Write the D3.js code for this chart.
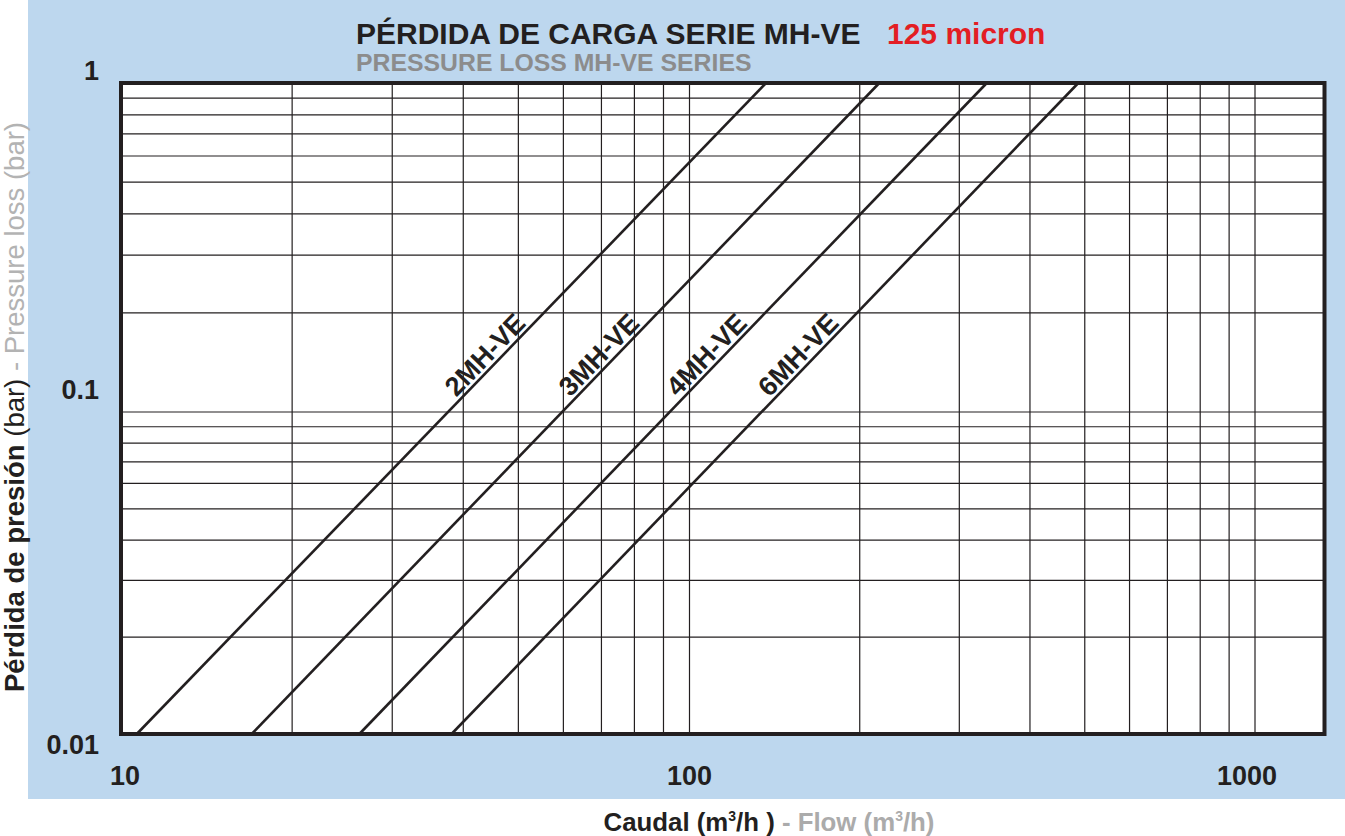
<!DOCTYPE html>
<html>
<head>
<meta charset="utf-8">
<script src="https://cdn.jsdelivr.net/npm/d3@7"></script>
<style>
  html, body { margin: 0; padding: 0; background: #ffffff; }
  svg { display: block; }
  text { font-family: "Liberation Sans", Arial, Helvetica, sans-serif; }
</style>
</head>
<body>
<svg id="chart" width="1345" height="836"></svg>
<script>
// ---------- data ----------
const flowTicks = [10, 100, 1000];                 // labelled x ticks (m3/h)
const lossTicks = [0.01, 0.1, 1];                  // labelled y ticks (bar)
const flowDecades = [10, 100];                     // decades for x minor grid
const lossDecades = [0.01, 0.1];                   // decades for y minor grid
const gridMultipliers = [1, 2, 3, 4, 5, 6, 7, 8, 9];
const seriesNames = ["2MH-VE", "3MH-VE", "4MH-VE", "6MH-VE"];
const lossEnds = [0.01, 1];                        // bar, end points of each curve
const flowAtLowLoss = [10.66, 16.98, 26.26, 38.14];  // m3/h at 0.01 bar
const flowAtHighLoss = [136.6, 216.6, 335.5, 487.0]; // m3/h at 1 bar
const labelLoss = 0.14;                            // where the series label sits
const flowMax = 1327;

// ---------- layout ----------
const W = 1345, H = 836;
const plot = { left: 121, right: 1324.5, top: 83, bottom: 734 };
const ink = "#231f20";
const blue = "#bdd7ee";

const svg = d3.select("#chart");

const x = d3.scaleLog()
  .domain([10, 100, 1000, flowMax])
  .range([plot.left, 689.5, 1255, plot.right]);
const y = d3.scaleLog()
  .domain([0.01, 0.1, 1])
  .range([plot.bottom, 412, plot.top]);

// background
svg.append("rect").attr("x", 28).attr("y", 0).attr("width", W - 28).attr("height", 799)
  .attr("fill", blue);
svg.append("rect").attr("x", plot.left).attr("y", plot.top)
  .attr("width", plot.right - plot.left).attr("height", plot.bottom - plot.top)
  .attr("fill", "#ffffff");

// grid
const xGrid = [];
flowDecades.forEach(d => gridMultipliers.forEach(m => xGrid.push(d * m)));
xGrid.push(1000);
const yGrid = [];
lossDecades.forEach(d => gridMultipliers.forEach(m => yGrid.push(d * m)));

const grid = svg.append("g").attr("stroke", ink).attr("stroke-width", 1.2);
grid.selectAll("line.vx").data(xGrid.filter(v => v > 10)).join("line")
  .attr("x1", d => x(d)).attr("x2", d => x(d))
  .attr("y1", plot.top).attr("y2", plot.bottom);
grid.selectAll("line.hy").data(yGrid.filter(v => v > 0.01)).join("line")
  .attr("x1", plot.left).attr("x2", plot.right)
  .attr("y1", d => y(d)).attr("y2", d => y(d));

// series
const series = seriesNames.map((name, i) => ({
  name,
  pts: [
    { q: flowAtLowLoss[i], p: lossEnds[0] },
    { q: flowAtHighLoss[i], p: lossEnds[1] }
  ]
}));
const line = d3.line().x(d => x(d.q)).y(d => y(d.p));
svg.append("g").selectAll("path").data(series).join("path")
  .attr("d", d => line(d.pts))
  .attr("fill", "none").attr("stroke", ink).attr("stroke-width", 2.6);

// series labels
const yl = y(labelLoss);
svg.append("g").selectAll("text").data(series).join("text")
  .attr("transform", d => {
    const x0 = x(d.pts[0].q), y0 = y(d.pts[0].p);
    const x1 = x(d.pts[1].q), y1 = y(d.pts[1].p);
    const t = (yl - y0) / (y1 - y0);
    const px = x0 + t * (x1 - x0);
    const ang = Math.atan2(y1 - y0, x1 - x0) * 180 / Math.PI;
    return `translate(${px},${yl}) rotate(${ang})`;
  })
  .attr("dy", -4)
  .attr("text-anchor", "middle")
  .attr("font-size", 27).attr("font-weight", "bold").attr("fill", ink)
  .text(d => d.name);

// frame
svg.append("rect").attr("x", plot.left).attr("y", plot.top)
  .attr("width", plot.right - plot.left).attr("height", plot.bottom - plot.top)
  .attr("fill", "none").attr("stroke", ink).attr("stroke-width", 4);

// x tick labels
svg.append("g").selectAll("text").data(flowTicks).join("text")
  .attr("x", (d, i) => x(d) + (i === 0 ? 4 : (i === flowTicks.length - 1 ? -8 : 0)))
  .attr("y", 785)
  .attr("text-anchor", "middle")
  .attr("font-size", 27).attr("font-weight", "bold").attr("fill", ink)
  .text(d => d3.format("d")(d));

// y tick labels
svg.append("g").selectAll("text").data(lossTicks).join("text")
  .attr("x", 99)
  .attr("y", (d, i) => i === 0 ? y(d) + 20 : (i === lossTicks.length - 1 ? y(d) - 3 : y(d) - 13))
  .attr("text-anchor", "end")
  .attr("font-size", 27).attr("font-weight", "bold").attr("fill", ink)
  .text(d => String(d));

// titles
const t1 = svg.append("text").attr("x", 356).attr("y", 44)
  .attr("font-size", 30).attr("font-weight", "bold");
t1.append("tspan").attr("fill", ink).text("PÉRDIDA DE CARGA SERIE MH-VE");
t1.append("tspan").attr("x", 887).attr("fill", "#e31e24").text("125 micron");

svg.append("text").attr("x", 356).attr("y", 71)
  .attr("font-size", 24.8).attr("font-weight", "bold").attr("fill", "#8c8c8c")
  .text("PRESSURE LOSS MH-VE SERIES");

// x axis title
const xt = svg.append("text").attr("x", 769).attr("y", 831)
  .attr("text-anchor", "middle").attr("font-size", 25.8).attr("font-weight", "bold");
xt.append("tspan").attr("fill", ink).text("Caudal (m");
xt.append("tspan").attr("fill", ink).attr("font-size", 14).attr("dy", -10).text("3");
xt.append("tspan").attr("fill", ink).attr("dy", 10).text("/h )");
xt.append("tspan").attr("fill", "#ababab").text(" - Flow (m");
xt.append("tspan").attr("fill", "#ababab").attr("font-size", 14).attr("dy", -10).text("3");
xt.append("tspan").attr("fill", "#ababab").attr("dy", 10).text("/h)");

// y axis title
const ytitle = svg.append("text").attr("transform", "translate(23.5,692) rotate(-90)")
  .attr("font-size", 27.5);
ytitle.append("tspan").attr("fill", ink).attr("font-weight", "bold").text("Pérdida de presión");
ytitle.append("tspan").attr("fill", ink).text(" (bar)");
ytitle.append("tspan").attr("fill", "#b3b3b3").text(" - Pressure loss (bar)");
</script>
</body>
</html>
